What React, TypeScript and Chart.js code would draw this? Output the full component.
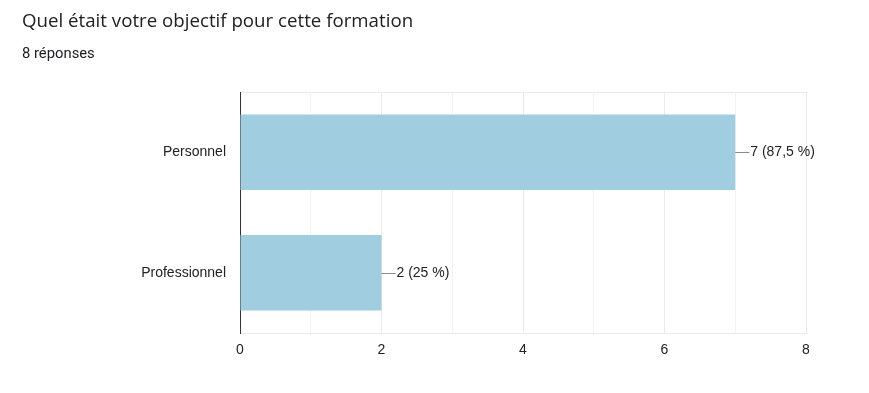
import React, { useEffect, useRef } from "react";
import { Chart, registerables } from "chart.js";

Chart.register(...registerables);

const TITLE = "Quel était votre objectif pour cette formation";
const SUBTITLE = "8 réponses";
const categories = ["Personnel", "Professionnel"];
const counts = [7, 2];
const valueLabels = ["7 (87,5 %)", "2 (25 %)"];
const xMin = 0;
const xMax = 8;

const FONT = "'Liberation Sans', Arial, sans-serif";

const leaderLabels = {
  id: "leaderLabels",
  afterDatasetsDraw(chart: any) {
    const ctx = chart.ctx;
    const meta = chart.getDatasetMeta(0);
    ctx.save();
    meta.data.forEach((bar: any, i: number) => {
      const x = bar.x;
      const y = Math.round(bar.y) + 0.5;
      ctx.strokeStyle = "#8a8a8a";
      ctx.lineWidth = 1;
      ctx.beginPath();
      ctx.moveTo(x, y);
      ctx.lineTo(x + 14, y);
      ctx.stroke();
      ctx.fillStyle = "#222222";
      ctx.font = "14px " + FONT;
      ctx.textAlign = "left";
      ctx.textBaseline = "middle";
      ctx.fillText(valueLabels[i], x + 15, y);
    });
    ctx.restore();
  },
};

export default function App() {
  const ref = useRef<HTMLCanvasElement>(null);
  useEffect(() => {
    const chart = new Chart(ref.current!, {
      type: "bar",
      data: {
        labels: categories,
        datasets: [
          {
            data: counts,
            backgroundColor: "#a0cee0",
            borderWidth: 0,
            barPercentage: 0.625,
            categoryPercentage: 1,
          },
        ],
      },
      options: {
        indexAxis: "y",
        animation: false,
        responsive: false,
        maintainAspectRatio: false,
        layout: { padding: { top: 92, right: 63, bottom: 0, left: 0 } },
        plugins: {
          legend: { display: false },
          tooltip: { enabled: false },
          title: { display: false },
        },
        scales: {
          x: {
            min: xMin,
            max: xMax,
            ticks: {
              stepSize: 1,
              padding: 9,
              color: "#222222",
              font: { family: FONT, size: 14 },
              callback: (v: any) => (Number(v) % 2 === 0 ? String(v) : ""),
            },
            grid: {
              drawTicks: false,
              color: (c: any) => (c.tick && c.tick.value % 2 === 0 ? "#ebebeb" : "#f3f3f3"),
            },
            border: { display: true, color: "#ebebeb" },
            afterFit: (s: any) => {
              s.height = 60;
            },
          },
          y: {
            ticks: {
              padding: 14,
              color: "#222222",
              font: { family: FONT, size: 14 },
            },
            grid: {
              drawTicks: false,
              color: (c: any) => (c.index === 0 ? "#ebebeb" : "rgba(0,0,0,0)"),
            },
            border: { display: true, color: "#333333", width: 1 },
            afterFit: (s: any) => {
              s.width = 240;
            },
          },
        },
      },
      plugins: [leaderLabels],
    });
    return () => chart.destroy();
  }, []);

  return (
    <div style={{ position: "fixed", left: 0, top: 0, width: 869, height: 393, background: "#fff" }}>
      <canvas ref={ref} width={869} height={393} style={{ position: "absolute", left: 0, top: 0 }} />
      <div
        style={{
          position: "absolute",
          left: 22,
          top: 8,
          fontFamily: "'Open Sans', Roboto, sans-serif",
          fontSize: 18.7,
          lineHeight: "24px",
          color: "#202124",
          whiteSpace: "nowrap",
        }}
      >
        {TITLE}
      </div>
      <div
        style={{
          position: "absolute",
          left: 22,
          top: 44,
          fontFamily: "Roboto, 'Open Sans', sans-serif",
          fontSize: 14.8,
          lineHeight: "18px",
          color: "#202124",
          whiteSpace: "nowrap",
        }}
      >
        {SUBTITLE}
      </div>
    </div>
  );
}
